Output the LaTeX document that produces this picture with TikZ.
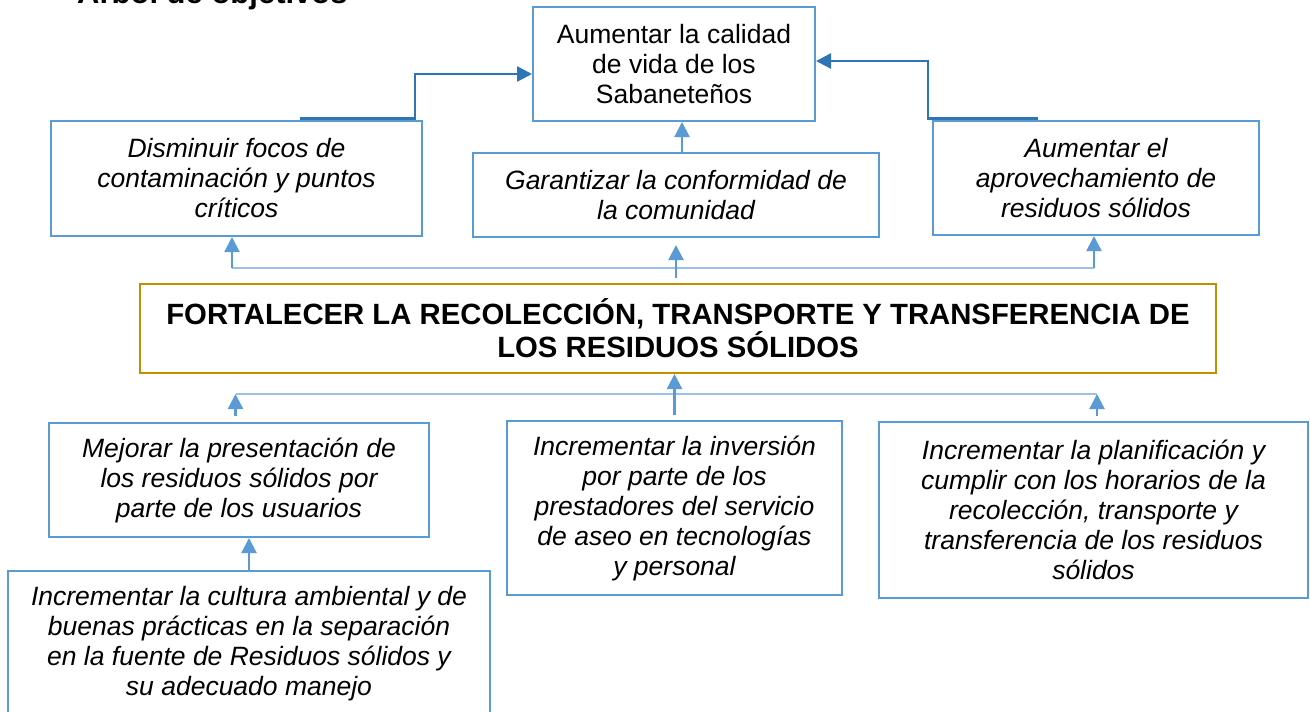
\documentclass[tikz,border=0pt]{standalone}
\usepackage{fontspec}
\setmainfont{Liberation Sans}
\usetikzlibrary{arrows.meta,calc}
\definecolor{boxblue}{HTML}{5B9BD5}
\definecolor{darkblue}{HTML}{2E75B6}
\definecolor{lineblue}{HTML}{9BC2E6}
\definecolor{goldline}{HTML}{BF9000}
\begin{document}
\begin{tikzpicture}[x=1pt,y=-1pt,
  box/.style={draw=boxblue, line width=2pt, inner sep=0pt, align=center,
    font=\fontsize{26.5}{30}\selectfont\itshape},
  mainbox/.style={draw=goldline, line width=2pt, inner sep=0pt, align=center,
    font=\fontsize{29.3}{33}\selectfont\bfseries},
  darkarrow/.style={draw=darkblue, line width=2.6pt, -{Triangle[length=15pt,width=15pt]}},
  lightarrow/.style={draw=boxblue, line width=2.2pt, -{Triangle[length=15pt,width=15pt]}},
  branch/.style={draw=lineblue, line width=2.2pt}
]
\useasboundingbox (0,0) rectangle (1310,712);

\node[anchor=base west, inner sep=0pt, font=\fontsize{31}{36}\selectfont\bfseries] (title) at (77,4) {Árbol de objetivos};

\node[box, font=\fontsize{26.5}{30}\selectfont, minimum width=282pt, minimum height=114pt] (top) at (674,64)
  {Aumentar la calidad\\de vida de los\\Sabaneteños};

\node[box, minimum width=371pt, minimum height=115pt] (L1) at (236.5,178.5)
  {Disminuir focos de\\contaminación y puntos\\críticos};
\node[box, minimum width=406pt, minimum height=84pt] (M1) at (676,195)
  {Garantizar la conformidad de\\la comunidad};
\node[box, minimum width=326pt, minimum height=114pt] (R1) at (1096,178)
  {Aumentar el\\aprovechamiento de\\residuos sólidos};

\node[mainbox, minimum width=1076pt, minimum height=89pt] (C) at (678,328.5)
  {FORTALECER LA RECOLECCIÓN, TRANSPORTE Y TRANSFERENCIA DE\\LOS RESIDUOS SÓLIDOS};

\node[box, minimum width=380pt, minimum height=114pt] (L2) at (239,480)
  {Mejorar la presentación de\\los residuos sólidos por\\parte de los usuarios};
\node[box, minimum width=335pt, minimum height=174pt] (M2) at (674.5,508)
  {Incrementar la inversión\\por parte de los\\prestadores del servicio\\de aseo en tecnologías\\y personal};
\node[box, minimum width=429pt, minimum height=176pt] (R2) at (1093.5,510)
  {Incrementar la planificación y\\cumplir con los horarios de la\\recolección, transporte y\\transferencia de los residuos\\sólidos};
\node[box, minimum width=482pt, minimum height=145pt] (L3) at (249,643.5)
  {Incrementar la cultura ambiental y de\\buenas prácticas en la separación\\en la fuente de Residuos sólidos y\\su adecuado manejo};

% top connectors
\draw[darkarrow] ([xshift=63.5pt,yshift=1.5pt]L1.north) -| ([xshift=-117pt,yshift=-10pt]top.west) -- ([yshift=-10pt]top.west);
\draw[darkarrow] ([xshift=-58pt,yshift=1.5pt]R1.north) -| ([xshift=112pt,yshift=3pt]top.east) -- ([yshift=3pt]top.east);
\draw[lightarrow] ([xshift=6pt]M1.north) -- ([xshift=6pt]M1.north |- top.south);

% upper branch
\coordinate (ubl) at (232,268);
\coordinate (ubr) at (1094,268);
\draw[branch] (ubl) -- (ubr);
\draw[lightarrow] (ubl) -- (L1.south -| ubl);
\draw[lightarrow] (ubr) -- (R1.south -| ubr);
\draw[lightarrow] ([xshift=-2pt,yshift=5pt]C.north) -- ([xshift=-2pt,yshift=-7pt]C.north |- M1.south);

% lower branch
\coordinate (lbl) at (235.5,394);
\coordinate (lbr) at (1097,394);
\draw[branch] (lbl) -- (lbr);
\draw[lightarrow] ([yshift=6pt]L2.north -| lbl) -- (lbl);
\draw[lightarrow] ([yshift=5pt]R2.north -| lbr) -- (lbr);
\draw[lightarrow] ([yshift=5pt]M2.north) -- (M2.north |- C.south);
\draw[lightarrow] (L3.north) -- (L3.north |- L2.south);
\end{tikzpicture}
\end{document}
